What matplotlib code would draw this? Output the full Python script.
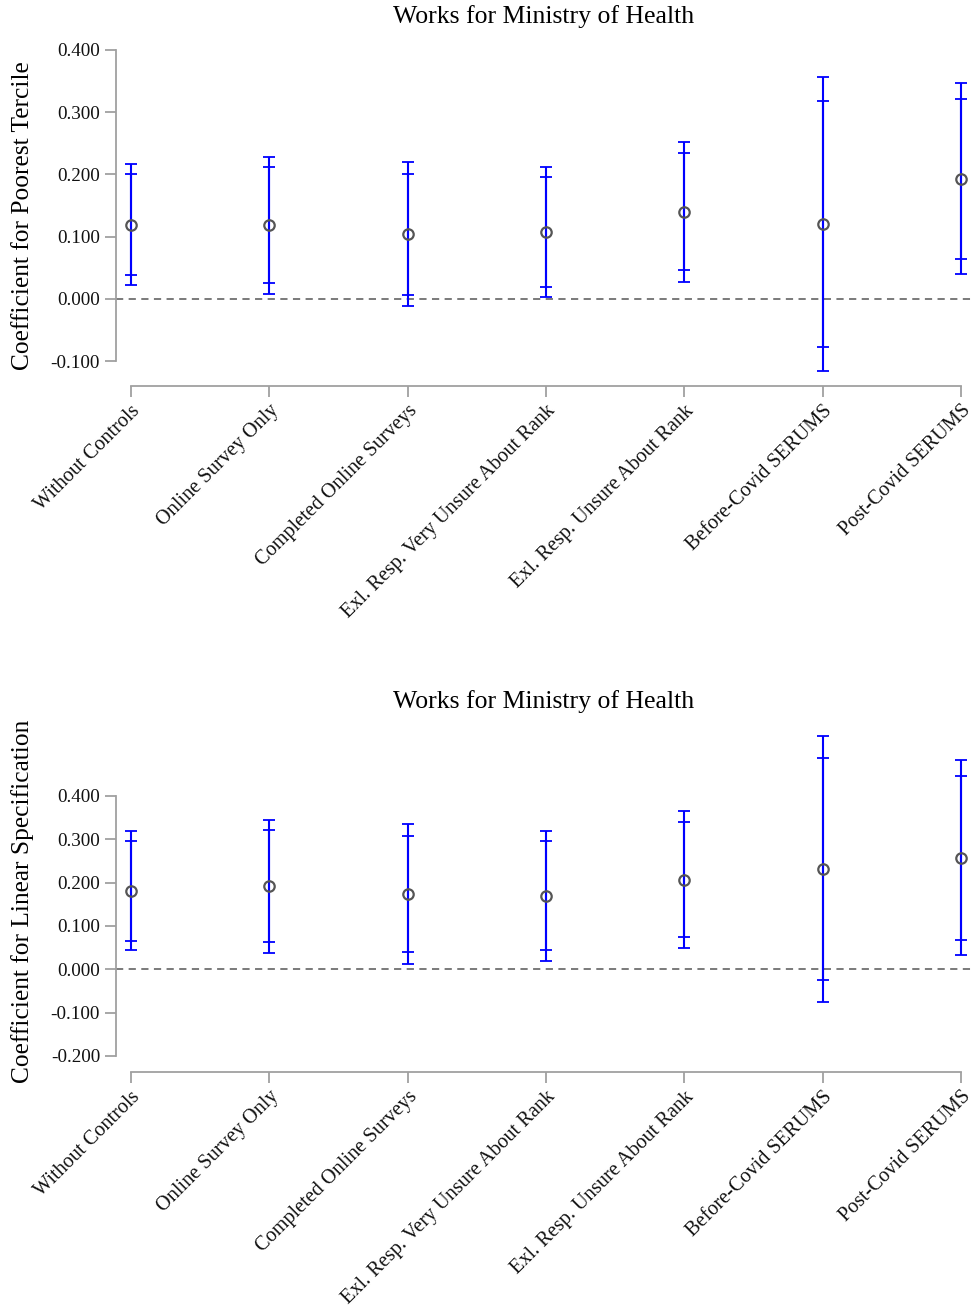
import numpy as np
import matplotlib
matplotlib.use("Agg")
import matplotlib.pyplot as plt

plt.rcParams['font.family'] = ['Liberation Serif', 'DejaVu Serif']

categories = ["Without Controls", "Online Survey Only", "Completed Online Surveys",
              "Exl. Resp. Very Unsure About Rank", "Exl. Resp. Unsure About Rank",
              "Before-Covid SERUMS", "Post-Covid SERUMS"]

# Panel 1: poorest tercile
coef_tercile = [0.119, 0.118, 0.104, 0.107, 0.140, 0.121, 0.193]
lo90_tercile = [0.038, 0.026, 0.007, 0.020, 0.047, -0.077, 0.064]
hi90_tercile = [0.201, 0.211, 0.201, 0.195, 0.234, 0.318, 0.321]
lo95_tercile = [0.022, 0.008, -0.011, 0.003, 0.028, -0.115, 0.040]
hi95_tercile = [0.217, 0.228, 0.219, 0.211, 0.252, 0.356, 0.346]

# Panel 2: linear specification
coef_linear = [0.181, 0.191, 0.173, 0.170, 0.207, 0.231, 0.257]
lo90_linear = [0.066, 0.062, 0.039, 0.044, 0.074, -0.025, 0.068]
hi90_linear = [0.296, 0.321, 0.308, 0.295, 0.340, 0.488, 0.445]
lo95_linear = [0.044, 0.037, 0.013, 0.020, 0.049, -0.076, 0.032]
hi95_linear = [0.318, 0.345, 0.334, 0.320, 0.366, 0.538, 0.482]

yticks_tercile = [-0.1, 0.0, 0.1, 0.2, 0.3, 0.4]
yticks_linear = [-0.2, -0.1, 0.0, 0.1, 0.2, 0.3, 0.4]

W, H = 972, 1306
fig = plt.figure(figsize=(W / 100, H / 100), dpi=100)

gray = "#a0a0a0"
blue = "#0000ff"


def panel(rect, coef, lo90, hi90, lo95, hi95, yticks, ylim, ylabel):
    ax = fig.add_axes(rect)
    x = np.arange(len(categories))
    coef = np.array(coef)
    for lo, hi in [(lo95, hi95), (lo90, hi90)]:
        lo = np.array(lo)
        hi = np.array(hi)
        ax.errorbar(x, coef, yerr=[coef - lo, hi - coef], fmt="none",
                    ecolor=blue, elinewidth=1.5, capsize=4.5, capthick=1.3, zorder=2)
    ax.plot(x, coef, "o", mfc="none", mec="#555555", mew=1.6, ms=7.5, zorder=3)
    ax.axhline(0, color="#707070", ls=(0, (4, 3)), lw=1.3, zorder=1)
    ax.set_xlim(-0.108, 6.08)
    ax.set_ylim(*ylim)
    ax.set_yticks(yticks)
    ax.set_yticklabels([f"{v:.3f}" for v in yticks], fontsize=13.8)
    ax.set_xticks(x)
    ax.set_xticklabels(categories, rotation=45, ha="right", va="top",
                       rotation_mode="anchor", fontsize=14.6)
    for s in ["top", "right"]:
        ax.spines[s].set_visible(False)
    ax.spines["left"].set_bounds(yticks[0], yticks[-1])
    ax.spines["bottom"].set_bounds(0, len(categories) - 1)
    for s in ["left", "bottom"]:
        ax.spines[s].set_color(gray)
        ax.spines[s].set_linewidth(1.3)
    ax.tick_params(axis="both", color=gray, width=1.3, length=8,
                   labelcolor="#111111")
    ax.tick_params(axis="x", pad=3)
    ax.set_title("Works for Ministry of Health", fontsize=18.5, pad=16)
    ax.set_ylabel(ylabel, fontsize=18.3, labelpad=12)
    return ax


ax1 = panel([116 / W, 1 - 386 / H, (W - 116) / W, (386 - 45) / H],
            coef_tercile, lo90_tercile, hi90_tercile, lo95_tercile, hi95_tercile,
            yticks_tercile, (-0.1396, 0.4075), "Coefficient for Poorest Tercile")
ax2 = panel([116 / W, 1 - 1072 / H, (W - 116) / W, (1072 - 730) / H],
            coef_linear, lo90_linear, hi90_linear, lo95_linear, hi95_linear,
            yticks_linear, (-0.237, 0.552), "Coefficient for Linear Specification")

fig.savefig("out.png", dpi=100)
